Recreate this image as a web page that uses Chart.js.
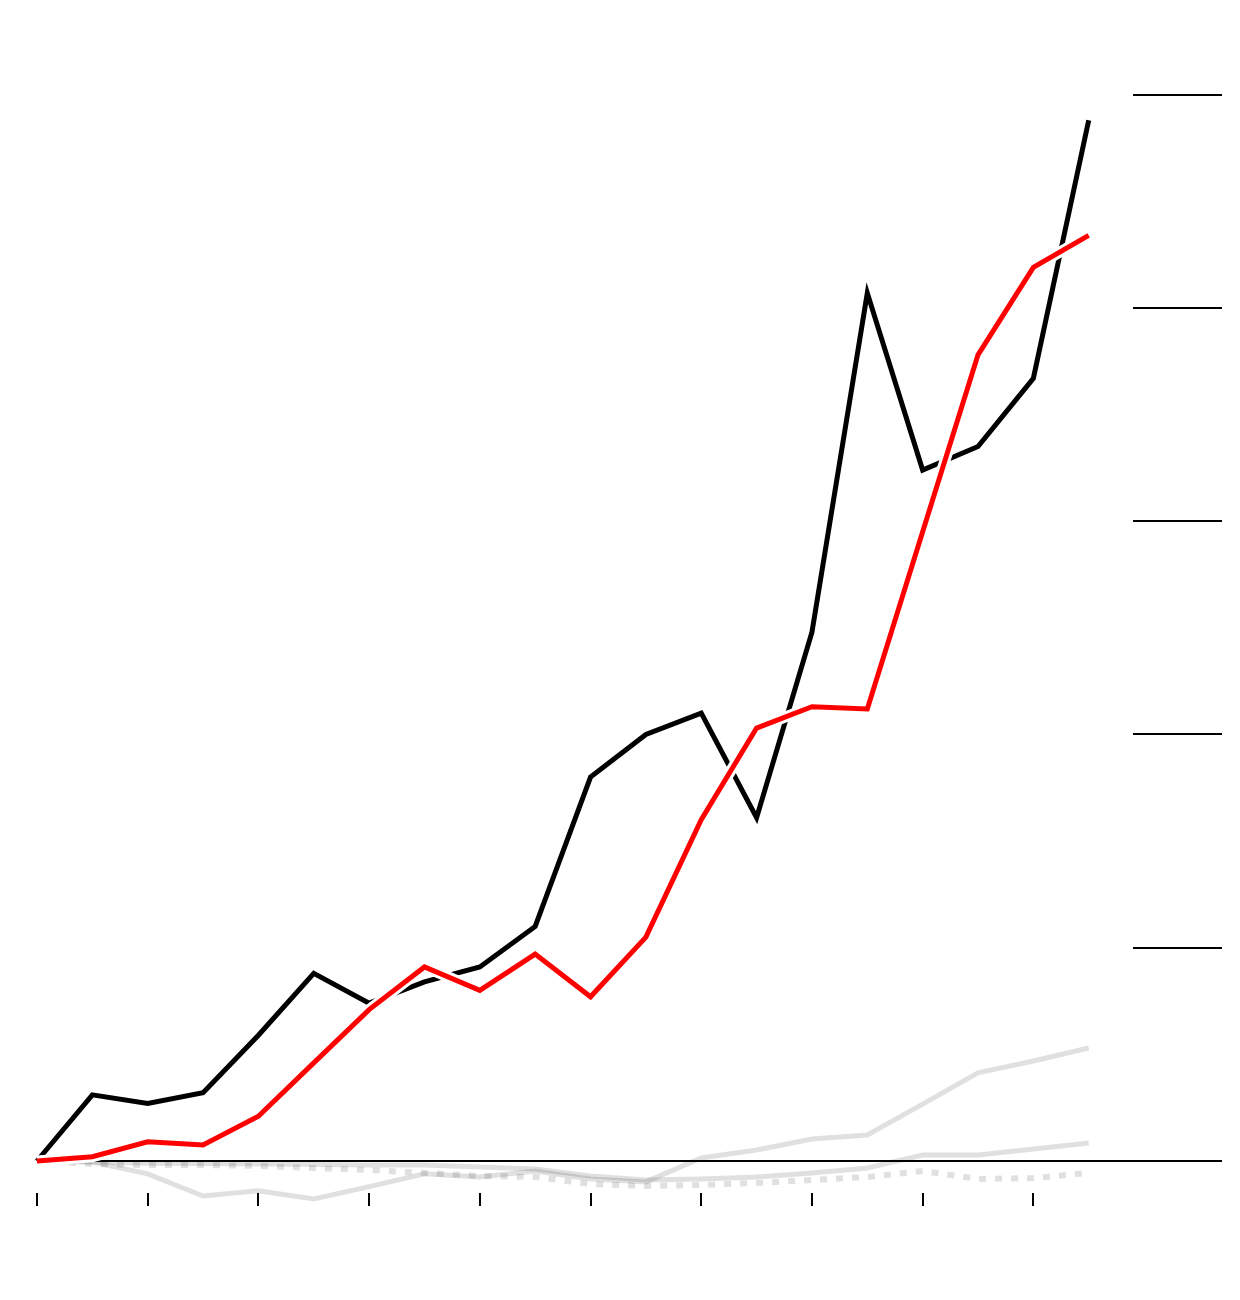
<!DOCTYPE html>
<html>
<head>
<meta charset="utf-8">
<script src="https://cdn.jsdelivr.net/npm/chart.js@4"></script>
<style>
  body { margin: 0; background: #fff; }
</style>
</head>
<body>
<canvas id="trendChart" width="1240" height="1300"></canvas>
<script>
// periods along the x axis (index only, no labels shown)
const periods = [0, 1, 2, 3, 4, 5, 6, 7, 8, 9, 10, 11, 12, 13, 14, 15, 16, 17, 18, 19];

// series values (change from start, gridlines every 100)
const blackSeries = [0, 31, 27, 32, 59, 88, 74, 84, 91, 110, 180, 200, 210, 161, 248, 407, 324, 335, 367, 488];
const redSeries = [0, 2, 9, 7.5, 21, 46, 71, 91, 80, 97, 77, 105, 160, 203, 213, 212, 295, 378, 419, 434];
const grayA = [0, -0.5, -6, -16.4, -14, -17.8, -12, -6, -7.5, -4.7, -8.4, -9.8, 1.4, 5.2, 10.3, 12.2, 26.7, 41.3, 46.9, 53];
const grayB = [0, -0.5, -1, -1.2, -1.4, -1.6, -1.9, -1.9, -2.8, -3.8, -7, -8.9, -8.4, -7.5, -5.6, -3.3, 2.8, 2.8, 5.6, 8.4];
const grayDotted = [0, -1.4, -1.9, -1.9, -2.3, -3.3, -4.2, -5.6, -7, -7.5, -10.8, -11.7, -11.2, -10.3, -8.9, -7.5, -4.7, -8.4, -8, -5.6];

// tick values
const xTicks = [0, 2, 4, 6, 8, 10, 12, 14, 16, 18];
const yTicks = [0, 100, 200, 300, 400, 500];

const toPoints = arr => arr.map((v, i) => ({ x: periods[i], y: v }));

const gray = 'rgba(0, 0, 0, 0.12)';

const ctx = document.getElementById('trendChart').getContext('2d');

new Chart(ctx, {
    type: 'line',
    data: {
        datasets: [
            {
                data: toPoints(redSeries),
                borderColor: '#ff0000',
                borderWidth: 5,
                order: 0
            },
            {
                // white halo under the red line
                data: toPoints(redSeries),
                borderColor: '#ffffff',
                borderWidth: 11,
                order: 1
            },
            {
                data: toPoints(blackSeries),
                borderColor: '#000000',
                borderWidth: 5,
                order: 2
            },
            {
                data: toPoints(grayA),
                borderColor: gray,
                borderWidth: 5,
                order: 3
            },
            {
                data: toPoints(grayB),
                borderColor: gray,
                borderWidth: 5,
                order: 4
            },
            {
                data: toPoints(grayDotted),
                borderColor: gray,
                borderWidth: 6,
                borderDash: [7, 9],
                order: 5
            }
        ]
    },
    options: {
        responsive: false,
        animation: false,
        layout: {
            padding: { top: 52, left: 37, right: 18, bottom: 94 }
        },
        elements: {
            point: { radius: 0, hoverRadius: 0 },
            line: { tension: 0, fill: false, borderJoinStyle: 'miter', borderCapStyle: 'butt' }
        },
        datasets: {
            line: { clip: false }
        },
        plugins: {
            legend: { display: false },
            tooltip: { enabled: false },
            title: { display: false }
        },
        scales: {
            x: {
                type: 'linear',
                min: 0,
                max: 19.8,
                afterBuildTicks: axis => {
                    axis.ticks = xTicks.map(v => ({ value: v }));
                },
                ticks: { display: false },
                border: { display: false },
                grid: {
                    drawOnChartArea: false,
                    drawTicks: true,
                    tickLength: 13,
                    tickColor: '#000000',
                    lineWidth: 2
                }
            },
            y: {
                position: 'right',
                min: -15,
                max: 520,
                afterBuildTicks: axis => {
                    axis.ticks = yTicks.map(v => ({ value: v }));
                },
                ticks: { display: false },
                border: { display: false },
                grid: {
                    drawOnChartArea: true,
                    color: c => (c.tick && c.tick.value === 0) ? '#000000' : 'rgba(0,0,0,0)',
                    tickColor: '#000000',
                    tickLength: 89,
                    lineWidth: 2
                }
            }
        }
    }
});
</script>
</body>
</html>
